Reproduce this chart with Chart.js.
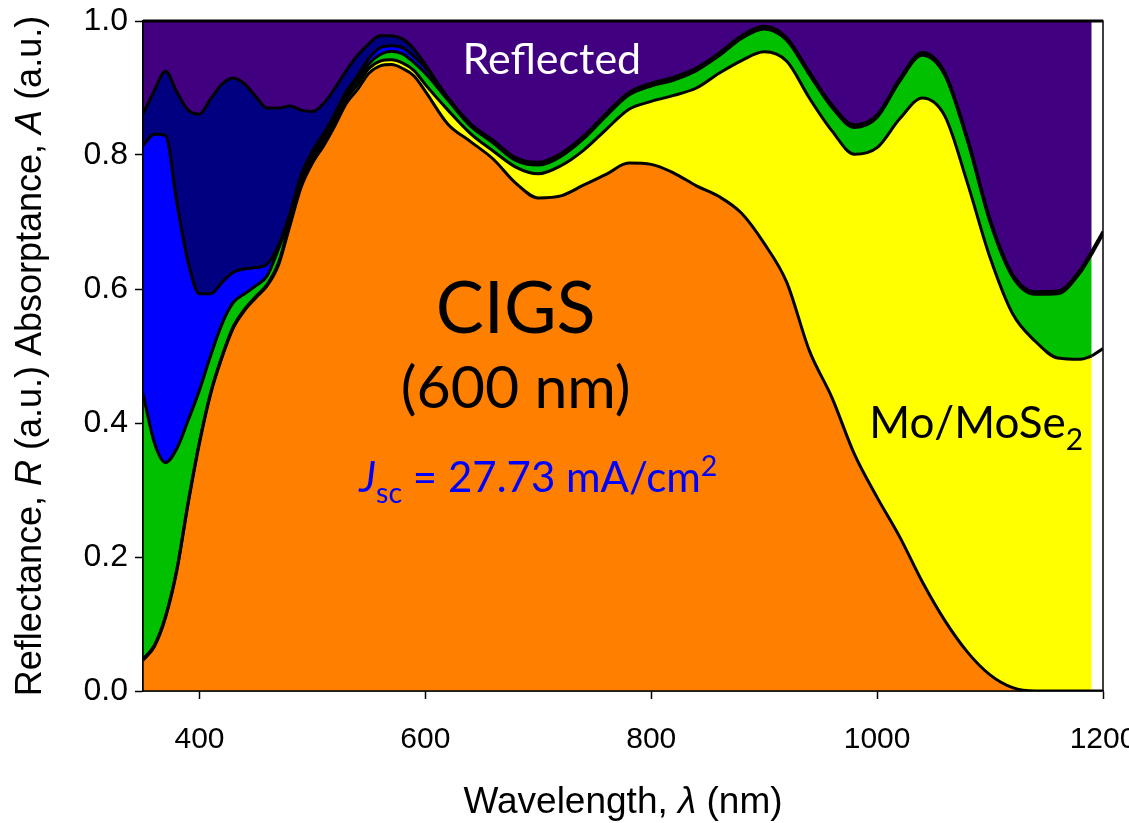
<!DOCTYPE html>
<html>
<head>
<meta charset="utf-8">
<script src="https://cdn.jsdelivr.net/npm/chart.js@4.4.1/dist/chart.umd.min.js"></script>
<style>
  html, body { margin: 0; padding: 0; background: #fff; }
  #wrap { width: 1129px; height: 823px; }
</style>
</head>
<body>
<div id="wrap"><canvas id="absChart" width="1129" height="823"></canvas></div>
<script>
// wavelength grid (nm)
const wavelengths = [350, 360, 370, 380, 390, 400, 410, 420, 430, 440, 450, 460, 470, 480, 490, 500, 510, 520, 530, 540, 550, 560, 570, 580, 590, 600,
  620, 640, 660, 680, 700, 720, 740, 760, 780, 800, 820, 840, 860, 880, 900, 920, 940, 960, 980, 1000,
  1020, 1040, 1060, 1080, 1100, 1120, 1140, 1160, 1180, 1190, 1200];

// cumulative curves, bottom to top
const cigsTop = [0.046, 0.066, 0.110, 0.180, 0.280, 0.370, 0.444, 0.498, 0.542, 0.568, 0.587, 0.605, 0.636, 0.694, 0.752, 0.788, 0.814, 0.844, 0.877, 0.898, 0.922, 0.933, 0.935, 0.929, 0.918, 0.895,
  0.846, 0.820, 0.794, 0.758, 0.736, 0.739, 0.755, 0.771, 0.788, 0.786, 0.773, 0.754, 0.738, 0.713, 0.668, 0.610, 0.508, 0.438, 0.353, 0.289,
  0.230, 0.163, 0.105, 0.058, 0.024, 0.005, 0, 0, 0, 0, 0];
const moTop = [0.048, 0.068, 0.112, 0.182, 0.282, 0.372, 0.446, 0.500, 0.544, 0.570, 0.589, 0.607, 0.639, 0.699, 0.758, 0.794, 0.820, 0.850, 0.883, 0.905, 0.929, 0.940, 0.942, 0.937, 0.926, 0.905,
  0.867, 0.832, 0.806, 0.782, 0.772, 0.784, 0.807, 0.838, 0.868, 0.880, 0.889, 0.900, 0.922, 0.941, 0.954, 0.940, 0.885, 0.836, 0.801, 0.811,
  0.854, 0.885, 0.858, 0.758, 0.647, 0.563, 0.522, 0.497, 0.495, 0.500, 0.511];
const greenTop = [0.444, 0.371, 0.341, 0.362, 0.404, 0.449, 0.501, 0.548, 0.580, 0.593, 0.605, 0.620, 0.660, 0.706, 0.764, 0.800, 0.826, 0.856, 0.889, 0.912, 0.936, 0.950, 0.955, 0.951, 0.938, 0.922,
  0.882, 0.843, 0.818, 0.792, 0.785, 0.798, 0.824, 0.858, 0.889, 0.903, 0.912, 0.926, 0.948, 0.974, 0.988, 0.971, 0.920, 0.871, 0.841, 0.856,
  0.910, 0.949, 0.919, 0.821, 0.700, 0.618, 0.592, 0.593, 0.625, 0.652, 0.682];
const blueTop = [0.814, 0.831, 0.829, 0.729, 0.640, 0.593, 0.593, 0.610, 0.625, 0.630, 0.632, 0.637, 0.665, 0.712, 0.770, 0.806, 0.832, 0.862, 0.895, 0.918, 0.944, 0.960, 0.963, 0.960, 0.947, 0.930,
  0.884, 0.845, 0.820, 0.794, 0.787, 0.800, 0.826, 0.860, 0.891, 0.905, 0.914, 0.928, 0.950, 0.976, 0.990, 0.973, 0.922, 0.873, 0.843, 0.858,
  0.912, 0.951, 0.921, 0.823, 0.702, 0.620, 0.594, 0.595, 0.627, 0.654, 0.684];
const navyTop = [0.861, 0.896, 0.925, 0.894, 0.867, 0.861, 0.884, 0.906, 0.915, 0.906, 0.887, 0.870, 0.870, 0.873, 0.867, 0.865, 0.877, 0.900, 0.926, 0.949, 0.966, 0.978, 0.978, 0.973, 0.958, 0.935,
  0.886, 0.847, 0.822, 0.796, 0.789, 0.802, 0.828, 0.862, 0.893, 0.907, 0.916, 0.930, 0.952, 0.978, 0.992, 0.975, 0.924, 0.875, 0.845, 0.860,
  0.914, 0.953, 0.923, 0.825, 0.704, 0.622, 0.596, 0.597, 0.629, 0.656, 0.686];

const fillEnd = 1190;
const xTicks = [400, 600, 800, 1000, 1200];
const yTicks = [0, 0.2, 0.4, 0.6, 0.8, 1.0];

const toPoints = vals => wavelengths.map((w, i) => ({ x: w, y: vals[i] }));
const filled = vals => toPoints(vals).filter(p => p.x <= fillEnd);
const tail = vals => toPoints(vals).filter(p => p.x >= fillEnd);

const layers = [
  { vals: cigsTop, color: '#ff8000', fill: 'origin' },
  { vals: moTop, color: '#ffff00', fill: '-1' },
  { vals: greenTop, color: '#00c000', fill: '-1' },
  { vals: blueTop, color: '#0000ff', fill: '-1' },
  { vals: navyTop, color: '#000080', fill: '-1' }
];

const datasets = layers.map(l => ({
  data: filled(l.vals),
  backgroundColor: l.color,
  borderColor: '#000',
  borderWidth: 3,
  fill: l.fill,
  pointRadius: 0,
  cubicInterpolationMode: 'monotone'
}));
// reflected part, from the top curve up to 1
datasets.push({
  data: filled(navyTop),
  backgroundColor: '#400080',
  borderWidth: 0,
  fill: 'end',
  pointRadius: 0,
  cubicInterpolationMode: 'monotone'
});
// the curves run on past the shaded part
[cigsTop, moTop, greenTop, blueTop, navyTop].forEach(vals => {
  datasets.push({
    data: tail(vals),
    borderColor: '#000',
    borderWidth: 3,
    fill: false,
    pointRadius: 0
  });
});

const annotations = [
  { x: 712, y: 0.921, size: 43, color: '#fff', align: 'center', runs: [{ t: 'Reflected' }] },
  { x: 680, y: 0.534, size: 72, color: '#000', align: 'center', runs: [{ t: 'CIGS' }] },
  { x: 680, y: 0.422, size: 59, color: '#000', align: 'center', runs: [{ t: '(600 nm)' }] },
  { x: 700, y: 0.297, size: 42, color: '#0000ff', align: 'center',
    runs: [{ t: 'J', italic: true }, { t: 'sc', sub: true }, { t: ' = 27.73 mA/cm' }, { t: '2', sup: true }] },
  { x: 993, y: 0.377, size: 44, color: '#000', align: 'left', runs: [{ t: 'Mo/MoSe' }, { t: '2', sub: true }] }
];

function drawRuns(ctx, runs, x, y, size, family, color, align) {
  const pieces = runs.map(r => {
    const s = (r.sub || r.sup) ? size * 0.68 : size;
    const font = (r.italic ? 'italic ' : '') + s + 'px ' + family;
    ctx.font = font;
    return { t: r.t, font, w: ctx.measureText(r.t).width, dy: r.sub ? size * 0.27 : r.sup ? -size * 0.38 : 0 };
  });
  const total = pieces.reduce((a, p) => a + p.w, 0);
  let cx = align === 'center' ? x - total / 2 : x;
  ctx.fillStyle = color;
  ctx.textAlign = 'left';
  ctx.textBaseline = 'alphabetic';
  pieces.forEach(p => {
    ctx.font = p.font;
    ctx.fillText(p.t, cx, y + p.dy);
    cx += p.w;
  });
}

const textPlugin = {
  id: 'textPlugin',
  afterDatasetsDraw(chart) {
    const { ctx, chartArea: a, scales } = chart;
    ctx.save();
    ctx.strokeStyle = '#000';
    ctx.lineWidth = 1.5;
    ctx.strokeRect(a.left, a.top, a.right - a.left, a.bottom - a.top);
    ctx.lineWidth = 3;
    ctx.beginPath();
    ctx.moveTo(a.left, a.top);
    ctx.lineTo(a.right, a.top);
    ctx.stroke();
    annotations.forEach(n => {
      drawRuns(ctx, n.runs, scales.x.getPixelForValue(n.x), scales.y.getPixelForValue(n.y),
        n.size, 'Lato, "Open Sans", sans-serif', n.color, n.align);
    });
    ctx.restore();
  },
  afterDraw(chart) {
    const { ctx, chartArea: a } = chart;
    const fam = '"Liberation Sans", Arial, sans-serif';
    ctx.save();
    drawRuns(ctx, [{ t: 'Wavelength, ' }, { t: '\u03bb', italic: true }, { t: ' (nm)' }],
      (a.left + a.right) / 2, 813, 37, fam, '#000', 'center');
    ctx.translate(41, (a.top + a.bottom) / 2);
    ctx.rotate(-Math.PI / 2);
    drawRuns(ctx, [{ t: 'Reflectance, ' }, { t: 'R', italic: true }, { t: ' (a.u.) Absorptance, ' }, { t: 'A', italic: true }, { t: ' (a.u.)' }],
      0, 0, 36, fam, '#000', 'center');
    ctx.restore();
  }
};

new Chart(document.getElementById('absChart'), {
  type: 'line',
  data: { datasets },
  options: {
    responsive: false,
    animation: false,
    layout: { padding: { top: 21, right: 26, left: 0, bottom: 0 } },
    plugins: {
      legend: { display: false },
      tooltip: { enabled: false },
      filler: { drawTime: 'beforeDatasetsDraw' }
    },
    scales: {
      x: {
        type: 'linear',
        min: 350,
        max: 1200,
        afterBuildTicks: s => { s.ticks = xTicks.map(v => ({ value: v })); },
        afterFit: s => { s.height = 132; s.paddingLeft = 0; s.paddingRight = 0; },
        ticks: {
          color: '#000',
          padding: 23,
          maxRotation: 0,
          font: { family: '"Liberation Sans", Arial, sans-serif', size: 30 },
          callback: v => String(v)
        },
        grid: { drawOnChartArea: false, tickLength: 8, tickColor: '#000', tickWidth: 1.5 },
        border: { display: true, color: '#000', width: 1.5 }
      },
      y: {
        min: 0,
        max: 1,
        afterBuildTicks: s => { s.ticks = yTicks.map(v => ({ value: v })); },
        afterFit: s => { s.width = 143; s.paddingTop = 0; s.paddingBottom = 0; },
        ticks: {
          color: '#000',
          padding: 7,
          font: { family: '"Liberation Sans", Arial, sans-serif', size: 32 },
          callback: v => v.toFixed(1)
        },
        grid: { drawOnChartArea: false, tickLength: 8, tickColor: '#000', tickWidth: 1.5 },
        border: { display: true, color: '#000', width: 1.5 }
      }
    }
  },
  plugins: [textPlugin]
});
</script>
</body>
</html>
